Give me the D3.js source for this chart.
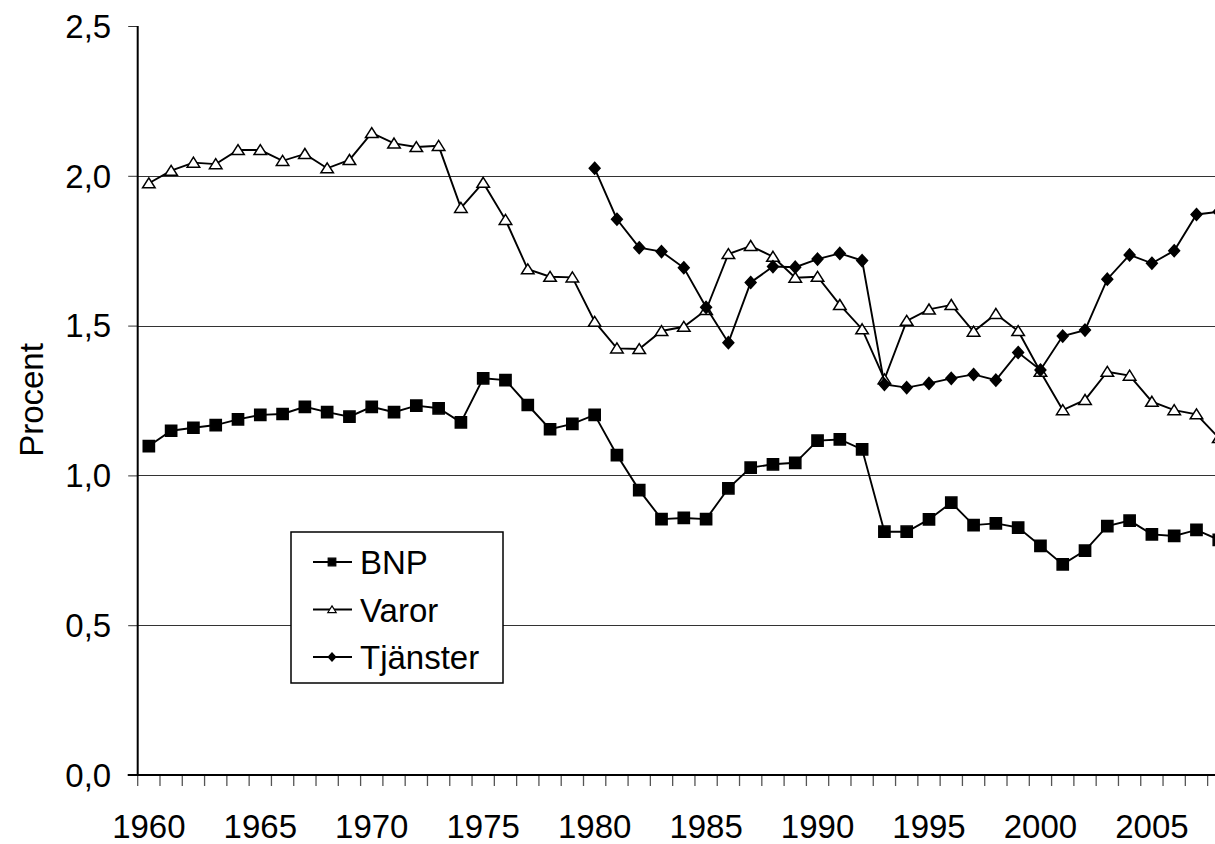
<!DOCTYPE html>
<html>
<head>
<meta charset="utf-8">
<script src="https://cdn.jsdelivr.net/npm/d3@7"></script>
<style>
	body { margin: 0; background: #fff; }
	text { font-family: "Liberation Sans", Arial, sans-serif; fill: #000; }
</style>
</head>
<body>
<script>
// data (procent)
var years = [1960, 1961, 1962, 1963, 1964, 1965, 1966, 1967, 1968, 1969,
	1970, 1971, 1972, 1973, 1974, 1975, 1976, 1977, 1978, 1979,
	1980, 1981, 1982, 1983, 1984, 1985, 1986, 1987, 1988, 1989,
	1990, 1991, 1992, 1993, 1994, 1995, 1996, 1997, 1998, 1999,
	2000, 2001, 2002, 2003, 2004, 2005, 2006, 2007, 2008];

var bnp = [1.098, 1.149, 1.159, 1.168, 1.187, 1.202, 1.205, 1.229, 1.211, 1.196,
	1.229, 1.211, 1.233, 1.224, 1.177, 1.324, 1.318, 1.235, 1.154, 1.172,
	1.202, 1.068, 0.951, 0.854, 0.858, 0.854, 0.957, 1.026, 1.037, 1.042,
	1.116, 1.120, 1.087, 0.812, 0.812, 0.853, 0.909, 0.834, 0.840, 0.826,
	0.765, 0.703, 0.749, 0.831, 0.849, 0.803, 0.798, 0.818, 0.785];

var varor = [1.975, 2.017, 2.044, 2.039, 2.086, 2.086, 2.050, 2.073, 2.025, 2.053,
	2.143, 2.108, 2.096, 2.100, 1.893, 1.977, 1.853, 1.688, 1.663, 1.661,
	1.513, 1.424, 1.422, 1.482, 1.496, 1.552, 1.739, 1.766, 1.730, 1.660,
	1.663, 1.569, 1.488, 1.321, 1.516, 1.554, 1.569, 1.480, 1.539, 1.482,
	1.346, 1.218, 1.252, 1.346, 1.333, 1.246, 1.218, 1.204, 1.125];

var tjanster = [null, null, null, null, null, null, null, null, null, null,
	null, null, null, null, null, null, null, null, null, null,
	2.025, 1.855, 1.760, 1.747, 1.693, 1.561, 1.443, 1.644, 1.697, 1.695,
	1.722, 1.741, 1.717, 1.304, 1.293, 1.307, 1.324, 1.337, 1.318, 1.410,
	1.352, 1.465, 1.485, 1.655, 1.736, 1.708, 1.750, 1.871, 1.880];

var yTicks = [0, 0.5, 1.0, 1.5, 2.0, 2.5];
var gridTicks = [0.5, 1.0, 1.5, 2.0];
var xLabels = [1960, 1965, 1970, 1975, 1980, 1985, 1990, 1995, 2000, 2005];

var width = 1215, height = 844;
var plotLeft = 137.7, plotTop = 26, plotBottom = 775;
var step = 22.29;

var svg = d3.select("body").append("svg")
	.attr("width", width)
	.attr("height", height);

var x = d3.scaleBand()
	.domain(years)
	.range([plotLeft, plotLeft + years.length * step])
	.padding(0);

var y = d3.scaleLinear()
	.domain([0, 2.5])
	.range([plotBottom, plotTop]);

function cx(i) { return x(years[i]) + x.bandwidth() / 2; }

// gridlines
svg.append("g")
	.attr("class", "grid")
	.selectAll("line")
	.data(gridTicks).enter().append("line")
		.attr("x1", plotLeft).attr("x2", width)
		.attr("y1", function (d) { return Math.round(y(d)) + 0.5; })
		.attr("y2", function (d) { return Math.round(y(d)) + 0.5; })
		.style("stroke", "#333")
		.style("stroke-width", 1);

// y axis
var yAxis = svg.append("g")
	.attr("transform", "translate(" + plotLeft + ",0)")
	.call(d3.axisLeft(y)
		.tickValues(yTicks)
		.tickSize(9.5)
		.tickPadding(17)
		.tickFormat(function (d) { return d.toFixed(1).replace(".", ","); }));
yAxis.select(".domain").remove();
yAxis.selectAll("line").style("stroke", "#333").style("stroke-width", 1);
yAxis.selectAll("text").style("font-size", "33px").attr("dy", "0.34em");

svg.append("line")
	.attr("x1", plotLeft).attr("x2", plotLeft)
	.attr("y1", plotTop).attr("y2", plotBottom + 1)
	.style("stroke", "#000").style("stroke-width", 2);

// x axis: ticks between categories, labels every 5 years
svg.append("g")
	.selectAll("line")
	.data(years).enter().append("line")
		.attr("x1", function (d) { return x(d); })
		.attr("x2", function (d) { return x(d); })
		.attr("y1", plotBottom).attr("y2", plotBottom + 11)
		.style("stroke", "#555").style("stroke-width", 1.3);

var xAxis = svg.append("g")
	.attr("transform", "translate(0," + plotBottom + ")")
	.call(d3.axisBottom(x)
		.tickValues(xLabels)
		.tickSize(0)
		.tickPadding(40));
xAxis.select(".domain").remove();
xAxis.selectAll("text").style("font-size", "33px");

svg.append("line")
	.attr("x1", plotLeft - 10).attr("x2", width)
	.attr("y1", plotBottom).attr("y2", plotBottom)
	.style("stroke", "#000").style("stroke-width", 2);

// y label
svg.append("text")
	.attr("transform", "translate(42.5,400) rotate(-90)")
	.attr("text-anchor", "middle")
	.style("font-size", "33px")
	.text("Procent");

// markers
var squarePath = function (s) { return "M" + (-s) + "," + (-s) + "H" + s + "V" + s + "H" + (-s) + "Z"; };
var trianglePath = function (s) { return "M0," + (-s * 0.95) + "L" + (s * 1.1) + "," + (s * 0.8) + "L" + (-s * 1.1) + "," + (s * 0.8) + "Z"; };
var diamondPath = function (s) { return "M0," + (-s * 1.1) + "L" + s + ",0L0," + (s * 1.1) + "L" + (-s) + ",0Z"; };

var series = [
	{ name: "BNP", values: bnp, marker: squarePath, size: 5.6, fill: "#000" },
	{ name: "Varor", values: varor, marker: trianglePath, size: 5.7, fill: "#fff" },
	{ name: "Tjänster", values: tjanster, marker: diamondPath, size: 5.4, fill: "#000" }
];

var line = d3.line()
	.defined(function (d) { return d != null; })
	.x(function (d, i) { return cx(i); })
	.y(function (d) { return y(d); });

series.forEach(function (s) {
	var g = svg.append("g").attr("class", "series");
	g.append("path")
		.datum(s.values)
		.attr("d", line)
		.style("fill", "none")
		.style("stroke", "#000")
		.style("stroke-width", 1.9);
	g.selectAll(".mark")
		.data(s.values.map(function (v, i) { return { v: v, i: i }; })
			.filter(function (d) { return d.v != null; }))
		.enter().append("path")
			.attr("class", "mark")
			.attr("transform", function (d) { return "translate(" + cx(d.i) + "," + y(d.v) + ")"; })
			.attr("d", s.marker(s.size))
			.style("fill", s.fill)
			.style("stroke", "#000")
			.style("stroke-width", 1.5);
});

// legend
var legend = svg.append("g").attr("transform", "translate(291,532)");
legend.append("rect")
	.attr("width", 212).attr("height", 151)
	.style("fill", "#fff").style("stroke", "#000").style("stroke-width", 1.5);

var rows = legend.selectAll(".row")
	.data(series).enter().append("g")
		.attr("class", "row")
		.attr("transform", function (d, i) { return "translate(0," + (30 + i * 47.5) + ")"; });
rows.append("line")
	.attr("x1", 22).attr("x2", 61)
	.style("stroke", "#000").style("stroke-width", 1.9);
rows.append("path")
	.attr("transform", "translate(41,0)")
	.attr("d", function (d) { return d.marker(3.8); })
	.style("fill", function (d) { return d.fill; })
	.style("stroke", "#000").style("stroke-width", 1.2);
rows.append("text")
	.attr("x", 69).attr("y", 12)
	.style("font-size", "33px")
	.text(function (d) { return d.name; });
</script>
</body>
</html>
